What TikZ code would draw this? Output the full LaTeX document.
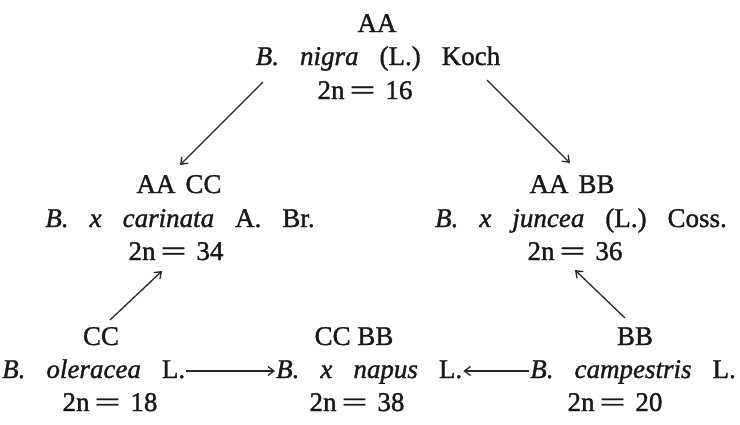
\documentclass[tikz,border=0pt]{standalone}
\usepackage{fontspec}
\setmainfont{Liberation Serif}[FakeBold=1.2]
\usepackage{graphicx}
\usetikzlibrary{arrows.meta,calc}
\newcommand\ws{\hspace{21pt}}
\newcommand\eqs{\hspace{5pt}\scalebox{1.7}[1]{=}\hspace{10pt}}
\begin{document}
\begin{tikzpicture}[x=1pt,y=-1pt,
  txt/.style={inner sep=0pt, anchor=base, text=black!90, font=\fontsize{27}{33}\selectfont},
  arr/.style={line width=1.3pt, draw=black!85, -{Straight Barb[length=6pt,width=9pt,line width=1.3pt]}}]
\useasboundingbox[fill=white] (0,0) rectangle (740,424);
% top: B. nigra
\node[txt] (nigG) at (377,32) {AA};
\node[txt] (nig) at (378,65) {\textit{B.}\ws\textit{nigra}\ws(L.)\ws Koch};
\node[txt] (nigN) at (365,99) {2n\eqs16};
% middle left: carinata
\node[txt] (carG) at (179,193) {AA\hspace{10pt}CC};
\node[txt] (car) at (180,227) {\textit{B.}\ws\textit{x}\ws\textit{carinata}\ws A.\ws Br.};
\node[txt] (carN) at (176,260) {2n\eqs34};
% middle right: juncea
\node[txt] (junG) at (572,193) {AA\hspace{10pt}BB};
\node[txt] (jun) at (581,227) {\textit{B.}\ws\textit{x}\ws\textit{juncea}\ws(L.)\ws Coss.};
\node[txt] (junN) at (575,260) {2n\eqs36};
% bottom
\node[txt] (oleG) at (101,345) {CC};
\node[txt,anchor=base west] (ole) at (2,378) {\textit{B.}\ws\textit{oleracea}\ws L.};
\node[txt] (oleN) at (110,411) {2n\eqs18};
\node[txt] (napG) at (354,345) {CC BB};
\node[txt,anchor=base west] (nap) at (276,378) {\textit{B.}\ws\textit{x}\ws\textit{napus}\ws L.};
\node[txt] (napN) at (357,411) {2n\eqs38};
\node[txt] (camG) at (635,345) {BB};
\node[txt,anchor=base east] (cam) at (736,378) {\textit{B.}\ws\textit{campestris}\ws L.};
\node[txt] (camN) at (615,411) {2n\eqs20};
% arrow end points
\coordinate (a1s) at (263,82);  \coordinate (a1e) at (180,165);
\coordinate (a2s) at (487,80);  \coordinate (a2e) at (570,163);
\coordinate (a3s) at (110,320); \coordinate (a3e) at (162,271);
\coordinate (a4s) at (625,318); \coordinate (a4e) at (575,270);
\draw[arr] (a1s) -- (a1e);
\draw[arr] (a2s) -- (a2e);
\draw[arr] (a3s) -- (a3e);
\draw[arr] (a4s) -- (a4e);
\draw[arr] ($(ole.base east)+(1,-7)$) -- ($(nap.base west)+(-1,-7)$);
\draw[arr] ($(cam.base west)+(-1,-7)$) -- ($(nap.base east)+(1,-7)$);
\end{tikzpicture}
\end{document}
